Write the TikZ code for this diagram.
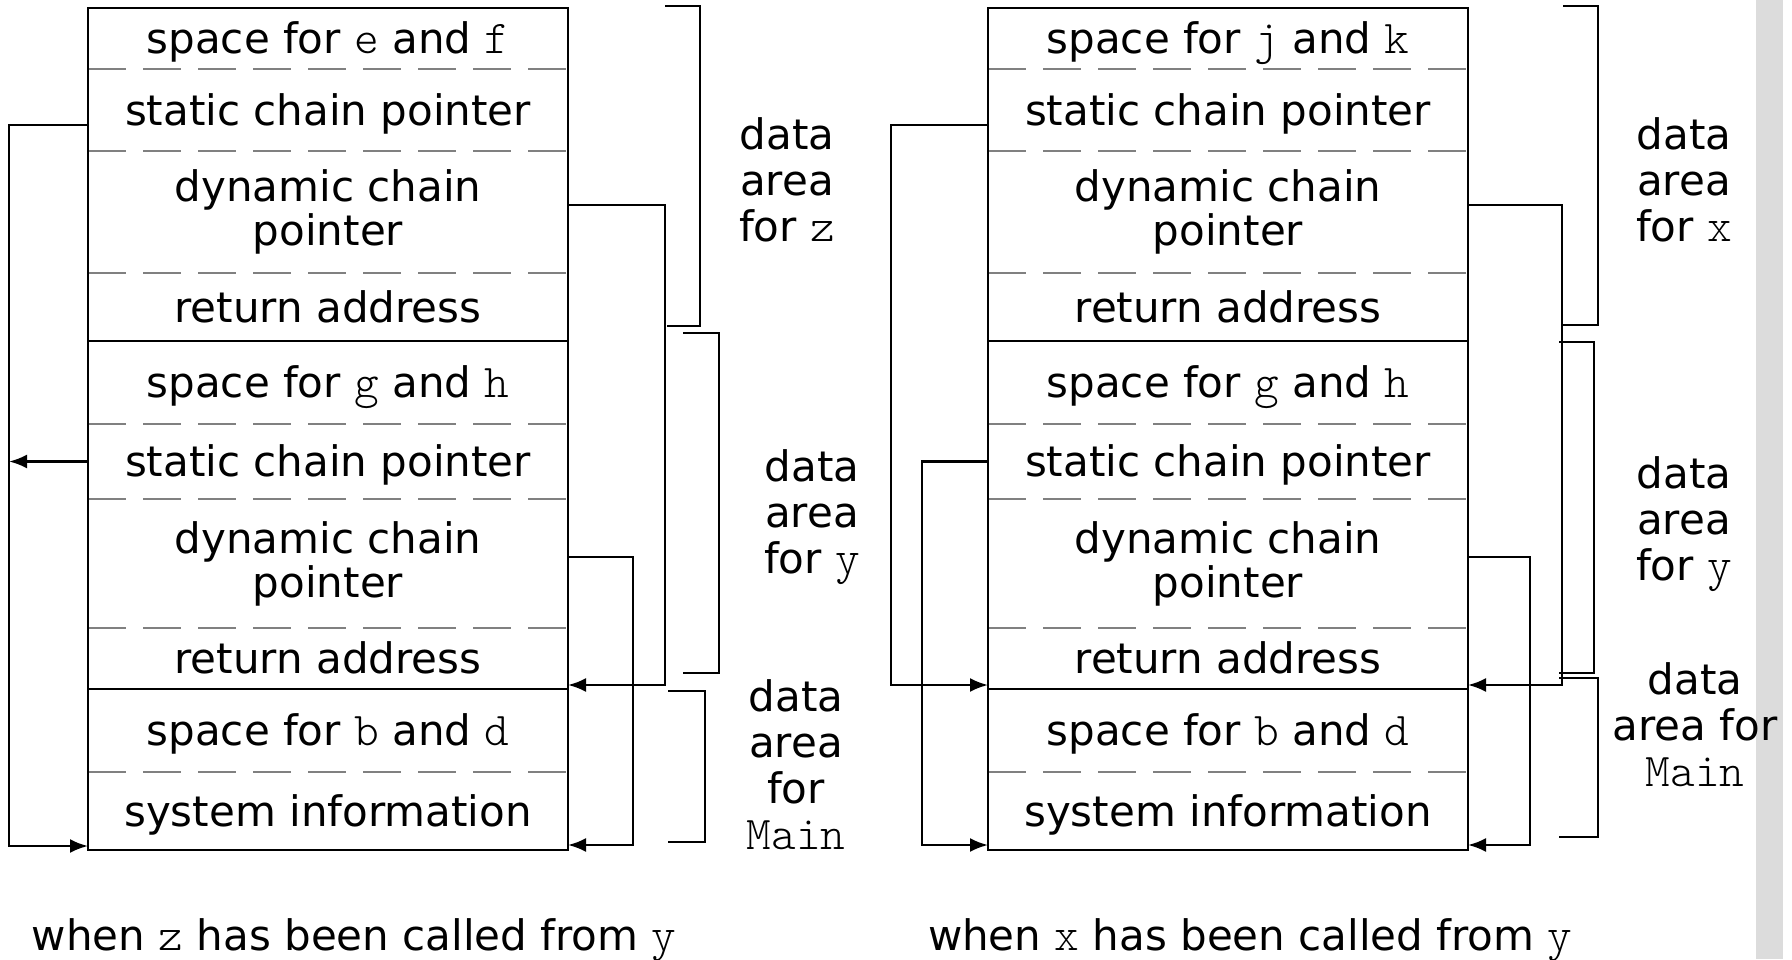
\documentclass[tikz,border=0pt]{standalone}
\usepackage{fontspec}
\setmainfont{DejaVu Sans}
\setmonofont[Scale=1.12]{lmmonolt10-regular.otf}
\newcommand{\cd}[1]{{\ttfamily #1}}
\usetikzlibrary{positioning,arrows.meta}
\definecolor{bargray}{RGB}{220,220,220}
\definecolor{dashgray}{RGB}{128,128,128}

\begin{document}
\begin{tikzpicture}[x=0.5pt, y=-0.5pt,
    every node/.style={inner sep=0pt, outer sep=0pt, font=\fontsize{21}{22}\selectfont},
    cell/.style={minimum width=240pt, text height=16pt, text depth=1pt},
    cellb/.style={minimum width=240pt, align=center},
    lbl/.style={align=center, font=\fontsize{21}{23}\selectfont},
    dashsep/.style={draw=dashgray, line width=0.65pt, dash pattern=on 19pt off 8.5pt},
    boxline/.style={line width=1.4pt},
    link/.style={line width=1.25pt, -{Latex[length=9pt, width=7pt]}},
    areabr/.style={line width=1.1pt}]
    \useasboundingbox (0,0) rectangle (1792,959);
    \fill[bargray] (1756,0) rectangle (1783,959);

    \node[cell, minimum height=30.5pt, anchor=north west] (l1) at (88,8) {space for \cd{e} and \cd{f}};
    \node[cell, minimum height=41pt, below=0pt of l1] (l2) {static chain pointer};
    \node[cellb, minimum height=61pt, below=0pt of l2] (l3) {dynamic chain\\pointer};
    \node[cell, minimum height=34pt, below=0pt of l3] (l4) {return address};
    \node[cell, minimum height=41.5pt, below=0pt of l4] (l5) {space for \cd{g} and \cd{h}};
    \node[cell, minimum height=37.5pt, below=0pt of l5] (l6) {static chain pointer};
    \node[cellb, minimum height=64.5pt, below=0pt of l6] (l7) {dynamic chain\\pointer};
    \node[cell, minimum height=30.5pt, below=0pt of l7] (l8) {return address};
    \node[cell, minimum height=41.5pt, below=0pt of l8] (l9) {space for \cd{b} and \cd{d}};
    \node[cell, minimum height=39pt, below=0pt of l9] (l10) {system information};

    \node[cell, minimum height=30.5pt, anchor=north west] (r1) at (988,8) {space for \cd{j} and \cd{k}};
    \node[cell, minimum height=41pt, below=0pt of r1] (r2) {static chain pointer};
    \node[cellb, minimum height=61pt, below=0pt of r2] (r3) {dynamic chain\\pointer};
    \node[cell, minimum height=34pt, below=0pt of r3] (r4) {return address};
    \node[cell, minimum height=41.5pt, below=0pt of r4] (r5) {space for \cd{g} and \cd{h}};
    \node[cell, minimum height=37.5pt, below=0pt of r5] (r6) {static chain pointer};
    \node[cellb, minimum height=64.5pt, below=0pt of r6] (r7) {dynamic chain\\pointer};
    \node[cell, minimum height=30.5pt, below=0pt of r7] (r8) {return address};
    \node[cell, minimum height=41.5pt, below=0pt of r8] (r9) {space for \cd{b} and \cd{d}};
    \node[cell, minimum height=39pt, below=0pt of r9] (r10) {system information};

    \draw[dashsep] (l1.south west) -- (l1.south east);
    \draw[dashsep] (l2.south west) -- (l2.south east);
    \draw[dashsep] (l3.south west) -- (l3.south east);
    \draw[dashsep] (l5.south west) -- (l5.south east);
    \draw[dashsep] (l6.south west) -- (l6.south east);
    \draw[dashsep] (l7.south west) -- (l7.south east);
    \draw[dashsep] (l9.south west) -- (l9.south east);
    \draw[dashsep] (r1.south west) -- (r1.south east);
    \draw[dashsep] (r2.south west) -- (r2.south east);
    \draw[dashsep] (r3.south west) -- (r3.south east);
    \draw[dashsep] (r5.south west) -- (r5.south east);
    \draw[dashsep] (r6.south west) -- (r6.south east);
    \draw[dashsep] (r7.south west) -- (r7.south east);
    \draw[dashsep] (r9.south west) -- (r9.south east);
    \draw[boxline] (l1.north west) rectangle (l10.south east);
    \draw[boxline] (l4.south west) -- (l4.south east);
    \draw[boxline] (l8.south west) -- (l8.south east);
    \draw[boxline] (r1.north west) rectangle (r10.south east);
    \draw[boxline] (r4.south west) -- (r4.south east);
    \draw[boxline] (r8.south west) -- (r8.south east);

    \coordinate (lrail) at (9,0);
    \draw[link] ([yshift=-7.5pt]l2.west) -- ++(-79,0) |- ([yshift=2pt]l10.south west);
    \draw[link] (l6.west) -- (l6.west -| lrail);
    \draw[link] ([yshift=3.5pt]l3.east) -- ++(97,0) |- ([yshift=2pt]l8.south east);
    \draw[link] ([yshift=3.25pt]l7.east) -- ++(65,0) |- ([yshift=2.5pt]l10.south east);
    \draw[link] ([yshift=-7.5pt]r2.west) -- ++(-97,0) |- ([yshift=2pt]r8.south west);
    \draw[link] (r6.west) -- ++(-66,0) |- ([yshift=2.5pt]r10.south west);
    \draw[link] ([yshift=3.5pt]r3.east) -- ++(94,0) |- ([yshift=2pt]r8.south east);
    \draw[link] ([yshift=3.25pt]r7.east) -- ++(62,0) |- ([yshift=2.5pt]r10.south east);

    \draw[areabr] (665,6) -- (700,6) -- (700,326) -- (667,326);
    \draw[areabr] (683,333) -- (719,333) -- (719,673) -- (683,673);
    \draw[areabr] (668,691) -- (705,691) -- (705,842) -- (668,842);
    \draw[areabr] (1563,6) -- (1598,6) -- (1598,325) -- (1563,325);
    \draw[areabr] (1559,342) -- (1594,342) -- (1594,673) -- (1559,673);
    \draw[areabr] (1559,678) -- (1598,678) -- (1598,837) -- (1559,837);

    \node[lbl] (lz) at (787,180) {data\\area\\for \cd{z}};
    \node[lbl] (ly) at (812,517) {data\\area\\for \cd{y}};
    \node[lbl] (lm) at (796,765) {data\\area\\for\\\cd{Main}};
    \node[lbl] (rx) at (1684,180) {data\\area\\for \cd{x}};
    \node[lbl] (ry) at (1684,524) {data\\area\\for \cd{y}};
    \node[lbl] (rm) at (1695,725) {data\\area for\\\cd{Main}};

    \node[anchor=base west] (capl) at (32,950) {when \cd{z} has been called from \cd{y}};
    \node[anchor=base west] (capr) at (928,950) {when \cd{x} has been called from \cd{y}};
\end{tikzpicture}
\end{document}
